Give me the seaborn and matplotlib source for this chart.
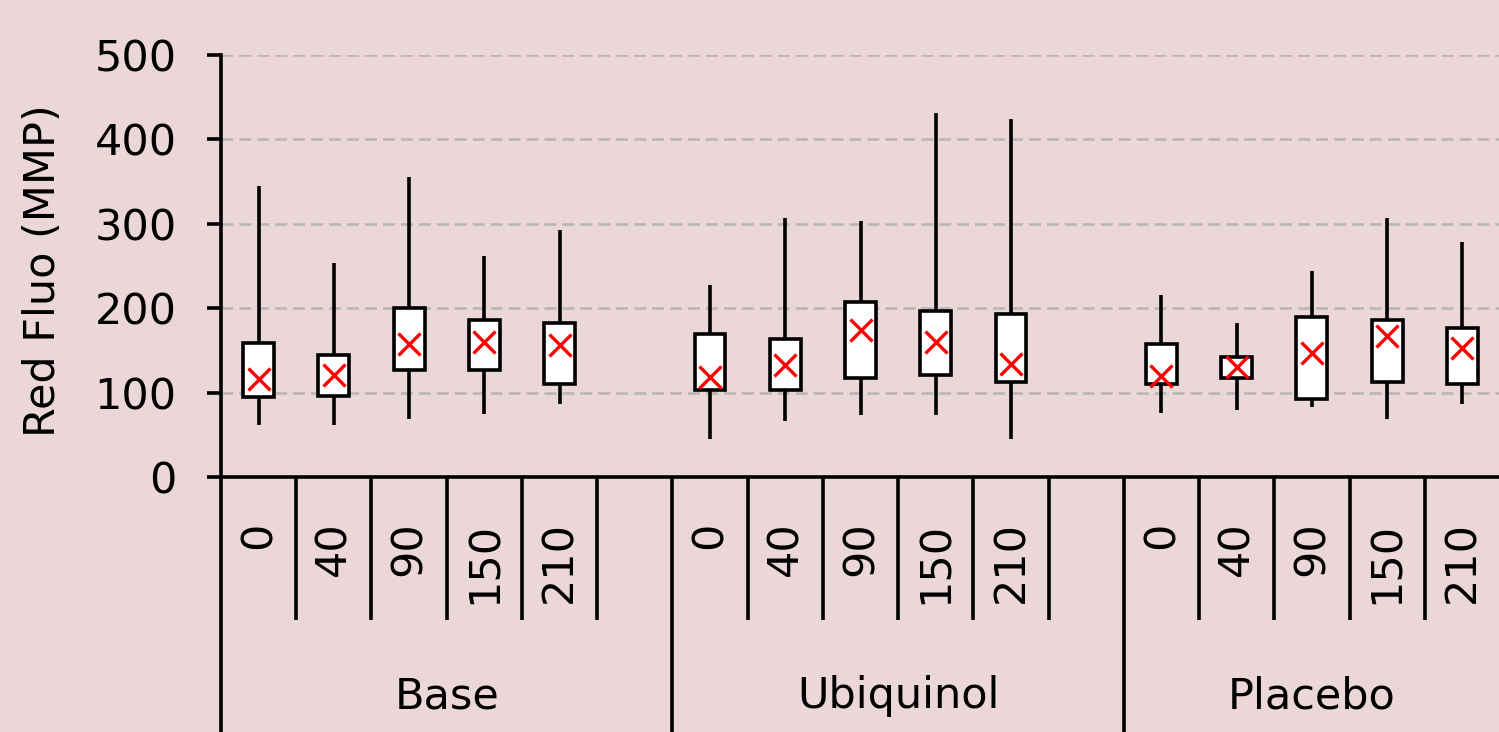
import numpy as np
import pandas as pd
import matplotlib
matplotlib.use("Agg")
import matplotlib.pyplot as plt
import matplotlib.transforms as mtransforms
import seaborn as sns

# ---- data -------------------------------------------------------------
groups = ["Base", "Ubiquinol", "Placebo"]
timepoints = ["0", "40", "90", "150", "210"]

# whisker ends, quartiles and means (Red Fluo, MMP)
base_low = [62, 62, 69, 75, 86]
base_q1 = [95, 96, 127, 127, 110]
base_q3 = [159, 145, 200, 186, 183]
base_high = [345, 254, 355, 262, 293]
base_mean = [116, 121, 158, 160, 156]

ubiq_low = [45, 66, 73, 73, 45]
ubiq_q1 = [103, 103, 117, 121, 113]
ubiq_q3 = [169, 163, 207, 197, 193]
ubiq_high = [227, 307, 303, 431, 424]
ubiq_mean = [119, 133, 174, 160, 134]

plac_low = [76, 79, 83, 69, 87]
plac_q1 = [110, 117, 92, 113, 110]
plac_q3 = [158, 142, 190, 186, 176]
plac_high = [216, 182, 244, 307, 279]
plac_mean = [120, 130, 147, 167, 153]

y_ticks = [0, 100, 200, 300, 400, 500]

# ---- long-form tables ---------------------------------------------------
series = {
    "Base": (base_low, base_q1, base_q3, base_high, base_mean),
    "Ubiquinol": (ubiq_low, ubiq_q1, ubiq_q3, ubiq_high, ubiq_mean),
    "Placebo": (plac_low, plac_q1, plac_q3, plac_high, plac_mean),
}

order, tick_labels = [], []
box_rows, mean_rows = [], []
for g in groups:
    lo, q1, q3, hi, mn = series[g]
    for t, a, b, c, d, m in zip(timepoints, lo, q1, q3, hi, mn):
        key = f"{g} {t}"
        order.append(key)
        tick_labels.append(t)
        # five points whose quartiles and range give the box and whiskers
        for v in (a, b, b, c, d):
            box_rows.append({"slot": key, "value": v})
        mean_rows.append({"slot": key, "mean": m})
    if g != groups[-1]:
        order.append(f"{g} spacer")
        tick_labels.append("")

box_df = pd.DataFrame(box_rows)
mean_df = pd.DataFrame(mean_rows)

# ---- figure -------------------------------------------------------------
sns.set_theme(style="ticks")
plt.rcParams["font.family"] = ["DejaVu Sans"]
plt.rcParams["text.color"] = "black"
plt.rcParams["xtick.color"] = "black"
plt.rcParams["ytick.color"] = "black"
plt.rcParams["axes.labelcolor"] = "black"
BG = "#ebd6d8"
FS = 31
LW = 2.6

W, H = 1499, 732
fig = plt.figure(figsize=(W / 100, H / 100), dpi=100, facecolor=BG)
ax = fig.add_axes([221 / W, 1 - 477 / H, 1279 / W, 422 / H])
ax.set_facecolor(BG)
ax.set_axisbelow(True)

sns.boxplot(
    data=box_df, x="slot", y="value", order=order, ax=ax,
    color="white", linecolor="black", linewidth=LW, width=0.41,
    whis=(0, 100), showcaps=False, showfliers=False, saturation=1,
    medianprops={"visible": False},
)
sns.pointplot(
    data=mean_df, x="slot", y="mean", order=order, ax=ax,
    color="#ff0000", marker="x", linestyle="none", errorbar=None,
    markersize=16, markeredgewidth=2.4, zorder=5,
)

ax.set_xlim(-0.5, len(order) - 0.5)
ax.set_ylim(0, 500)
ax.set_yticks(y_ticks)
ax.set_xticks(range(len(order)))
ax.set_xticklabels(tick_labels, rotation=90, fontsize=FS, color="black")
ax.tick_params(axis="x", length=0, pad=32, labelcolor="black")
ax.tick_params(axis="y", length=10, width=LW, pad=22, labelsize=FS,
               direction="out", color="black", labelcolor="black")
ax.set_xlabel("")
ax.set_ylabel("")

ax.yaxis.grid(True, color="#b9b6b6", linewidth=1.9, linestyle=(0, (4.5, 2.3)))
ax.xaxis.grid(False)

for s in ("top", "right"):
    ax.spines[s].set_visible(False)
for s in ("left", "bottom"):
    ax.spines[s].set_linewidth(LW)
    ax.spines[s].set_color("black")

# category separators below the axis
trans = mtransforms.blended_transform_factory(ax.transData, ax.transAxes)
group_start = [0]
for i, key in enumerate(order):
    if key.endswith("spacer"):
        group_start.append(i + 1)
group_edges = [s - 0.5 for s in group_start]
for k in range(len(order)):
    x = k - 0.5
    y_end = -0.605 if x in group_edges else -0.339
    ax.plot([x, x], [0, y_end], transform=trans, color="black", lw=LW,
            clip_on=False, solid_capstyle="butt", zorder=6)

# group names
group_end = group_start[1:] + [len(order)]
for g, s, e in zip(groups, group_start, group_end):
    ax.text((s - 0.5 + e - 0.5) / 2, -0.519, g, transform=trans,
            ha="center", va="center", fontsize=FS, color="black")

fig.text(43 / W, 1 - 271 / H, "Red Fluo (MMP)", rotation=90,
         ha="center", va="center", fontsize=FS, color="black")

fig.savefig("out.png", dpi=100, facecolor=BG)
